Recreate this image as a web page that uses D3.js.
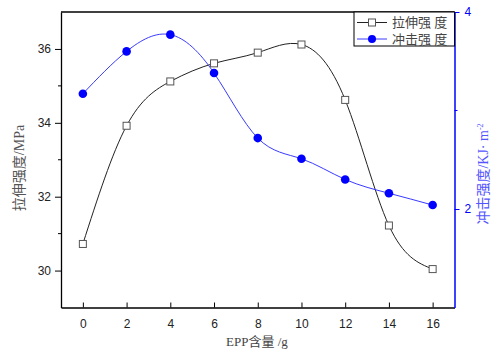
<!DOCTYPE html>
<html>
<head>
<meta charset="utf-8">
<script src="https://cdn.jsdelivr.net/npm/d3@7"></script>
<style>
  body { margin: 0; background: #fff; }
  svg text { font-family: "Liberation Sans", Arial, sans-serif; }
  .cn { font-family: "Liberation Serif", "Noto Sans CJK SC", serif; }
</style>
</head>
<body>
<script>
// EPP content (g)
var eppContent = [0, 2, 4, 6, 8, 10, 12, 14, 16];
// tensile strength, MPa (left axis)
var tensile = [30.72, 33.92, 35.12, 35.61, 35.9, 36.12, 34.62, 31.22, 30.04];
// impact strength, KJ/m2 (right axis)
var impact = [3.17, 3.60, 3.77, 3.38, 2.72, 2.51, 2.30, 2.16, 2.04];
var xTicks = [0, 2, 4, 6, 8, 10, 12, 14, 16];
var leftTicks = [30, 32, 34, 36];
var leftMinor = [31, 33, 35];
var rightTicks = [2, 4];
var rightMinor = [3];

var width = 502, height = 354;
var plot = {left: 61, right: 454.5, top: 12, bottom: 307.5};

var svg = d3.select("body").append("svg")
    .attr("width", width)
    .attr("height", height);

var x = d3.scaleLinear().domain([-1, 17]).range([plot.left, plot.right]);
var yL = d3.scaleLinear().domain([29, 37]).range([plot.bottom, plot.top]);
var yR = d3.scaleLinear().domain([1, 4]).range([plot.bottom, plot.top]);

// frame top line
svg.append("line")
    .attr("x1", plot.left).attr("x2", plot.right)
    .attr("y1", plot.top).attr("y2", plot.top)
    .attr("stroke", "#000").attr("stroke-width", 1.3);

// bottom axis, ticks point inward
var xAxis = svg.append("g")
    .attr("transform", "translate(0," + plot.bottom + ")")
    .call(d3.axisBottom(x).tickValues(xTicks).tickSizeInner(-5).tickSizeOuter(0).tickPadding(12));
xAxis.select(".domain").attr("stroke", "#000").attr("stroke-width", 1.3);
xAxis.selectAll(".tick line").attr("stroke", "#000");
xAxis.selectAll("text").attr("font-size", 12).attr("fill", "#222");

// left axis
var lAxis = svg.append("g")
    .attr("transform", "translate(" + plot.left + ",0)")
    .call(d3.axisLeft(yL).tickValues(leftTicks).tickSizeInner(6).tickSizeOuter(0).tickPadding(4));
lAxis.select(".domain").attr("stroke", "#000").attr("stroke-width", 1.3);
lAxis.selectAll("text").attr("font-size", 12).attr("fill", "#222");
svg.append("g").selectAll("line")
    .data(leftMinor).enter().append("line")
    .attr("x1", plot.left - 3).attr("x2", plot.left)
    .attr("y1", function(d) { return yL(d); })
    .attr("y2", function(d) { return yL(d); })
    .attr("stroke", "#000");

// right axis (blue)
var rAxis = svg.append("g")
    .attr("transform", "translate(" + plot.right + ",0)")
    .call(d3.axisRight(yR).tickValues(rightTicks).tickFormat(d3.format("d"))
        .tickSizeInner(5).tickSizeOuter(0).tickPadding(5));
rAxis.select(".domain").attr("stroke", "#0000ff").attr("stroke-width", 1.5);
rAxis.selectAll(".tick line").attr("stroke", "#0000ff");
rAxis.selectAll("text").attr("font-size", 12).attr("fill", "#0000ff");
svg.append("g").selectAll("line")
    .data(rightMinor).enter().append("line")
    .attr("x1", plot.right).attr("x2", plot.right + 3)
    .attr("y1", function(d) { return yR(d); })
    .attr("y2", function(d) { return yR(d); })
    .attr("stroke", "#0000ff");

// curves
var lineT = d3.line()
    .x(function(d, i) { return x(eppContent[i]); })
    .y(function(d) { return yL(d); })
    .curve(d3.curveNatural);
var lineI = d3.line()
    .x(function(d, i) { return x(eppContent[i]); })
    .y(function(d) { return yR(d); })
    .curve(d3.curveNatural);

svg.append("path").datum(tensile)
    .attr("d", lineT).attr("fill", "none")
    .attr("stroke", "#222").attr("stroke-width", 1);
svg.append("path").datum(impact)
    .attr("d", lineI).attr("fill", "none")
    .attr("stroke", "#3a3aff").attr("stroke-width", 1);

// markers
svg.append("g").selectAll("rect")
    .data(tensile).enter().append("rect")
    .attr("x", function(d, i) { return x(eppContent[i]) - 3.5; })
    .attr("y", function(d) { return yL(d) - 3.5; })
    .attr("width", 7).attr("height", 7)
    .attr("fill", "#fff").attr("stroke", "#555").attr("stroke-width", 1);
svg.append("g").selectAll("circle")
    .data(impact).enter().append("circle")
    .attr("cx", function(d, i) { return x(eppContent[i]); })
    .attr("cy", function(d) { return yR(d); })
    .attr("r", 4.3)
    .attr("fill", "#0000ff");

// legend
var lg = svg.append("g");
lg.append("rect")
    .attr("x", 354).attr("y", plot.top)
    .attr("width", plot.right - 354).attr("height", 34)
    .attr("fill", "#fff").attr("stroke", "#000").attr("stroke-width", 1);
lg.append("line").attr("x1", 357).attr("x2", 387).attr("y1", 22.5).attr("y2", 22.5)
    .attr("stroke", "#222");
lg.append("rect").attr("x", 368.5).attr("y", 19).attr("width", 7).attr("height", 7)
    .attr("fill", "#fff").attr("stroke", "#555");
lg.append("line").attr("x1", 357).attr("x2", 387).attr("y1", 39).attr("y2", 39)
    .attr("stroke", "#3a3aff");
lg.append("circle").attr("cx", 372).attr("cy", 39).attr("r", 4).attr("fill", "#0000ff");
lg.append("text").attr("class", "cn").attr("x", 392).attr("y", 27)
    .attr("font-size", 13).attr("fill", "#444").text("拉伸强 度");
lg.append("text").attr("class", "cn").attr("x", 392).attr("y", 44)
    .attr("font-size", 13).attr("fill", "#444").text("冲击强 度");

// axis titles
svg.append("text").attr("class", "cn")
    .attr("x", 257).attr("y", 346)
    .attr("text-anchor", "middle")
    .attr("font-size", 13).attr("fill", "#444")
    .text("EPP含量 /g");

svg.append("text").attr("class", "cn")
    .attr("transform", "translate(24,168) rotate(-90)")
    .attr("text-anchor", "middle")
    .attr("font-size", 14).attr("fill", "#555")
    .text("拉伸强度/MPa");

var rt = svg.append("text").attr("class", "cn")
    .attr("transform", "translate(488,174) rotate(-90)")
    .attr("text-anchor", "middle")
    .attr("font-size", 14).attr("fill", "#5555ff");
rt.append("tspan").text("冲击强度/KJ· m");
rt.append("tspan").attr("dy", -5).attr("font-size", 8).text("-2");
</script>
</body>
</html>
